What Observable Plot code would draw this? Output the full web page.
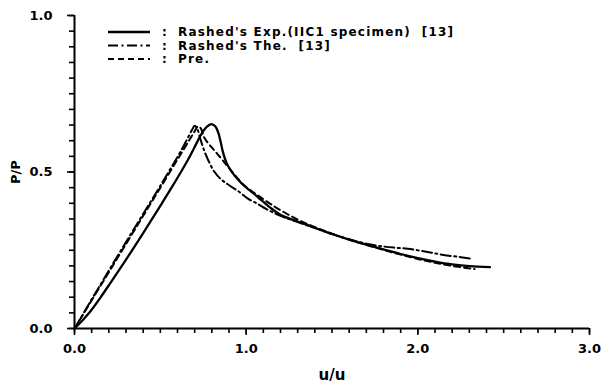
<!DOCTYPE html>
<html>
<head>
<meta charset="utf-8">
<script src="https://cdn.jsdelivr.net/npm/d3@7"></script>
<script src="https://cdn.jsdelivr.net/npm/@observablehq/plot@0.6"></script>
<style>
  html, body { margin: 0; padding: 0; background: #fff; }
  #wrap { position: relative; width: 601px; height: 387px; }
  #legend { position: absolute; left: 0; top: 0; pointer-events: none; }
  svg text { font-family: "DejaVu Sans", sans-serif; }
</style>
</head>
<body>
<div id="wrap"></div>
<script>
// Series: Rashed's experiment (solid)
const expX = [0, 0.05, 0.10, 0.15, 0.20, 0.30, 0.40, 0.50, 0.56, 0.62, 0.67, 0.70, 0.74, 0.77, 0.797, 0.82, 0.838, 0.852, 0.864, 0.885, 0.913, 0.971, 1.068, 1.136, 1.20, 1.30, 1.40, 1.50, 1.60, 1.70, 1.80, 1.90, 2.00, 2.10, 2.20, 2.30, 2.42];
const expY = [0, 0.028, 0.06, 0.098, 0.138, 0.22, 0.305, 0.392, 0.445, 0.5, 0.548, 0.58, 0.622, 0.644, 0.653, 0.646, 0.625, 0.595, 0.565, 0.53, 0.503, 0.465, 0.42, 0.388, 0.363, 0.342, 0.322, 0.302, 0.284, 0.268, 0.253, 0.238, 0.225, 0.214, 0.205, 0.199, 0.196];
// Series: Rashed's theory (dash-dot)
const theX = [0, 0.10, 0.20, 0.30, 0.40, 0.50, 0.60, 0.65, 0.685, 0.70, 0.715, 0.73, 0.748, 0.777, 0.816, 0.855, 0.903, 0.961, 1.01, 1.068, 1.116, 1.20, 1.30, 1.40, 1.50, 1.60, 1.70, 1.80, 1.87, 1.94, 2.01, 2.08, 2.15, 2.25, 2.32];
const theY = [0, 0.093, 0.185, 0.276, 0.366, 0.456, 0.548, 0.598, 0.635, 0.648, 0.638, 0.612, 0.58, 0.54, 0.5, 0.476, 0.457, 0.436, 0.415, 0.398, 0.382, 0.360, 0.340, 0.321, 0.302, 0.285, 0.271, 0.262, 0.258, 0.255, 0.249, 0.242, 0.235, 0.228, 0.222];
// Series: Present prediction (dashed)
const preX = [0, 0.10, 0.20, 0.30, 0.40, 0.50, 0.60, 0.67, 0.70, 0.72, 0.735, 0.758, 0.797, 0.826, 0.864, 0.922, 0.98, 1.029, 1.087, 1.136, 1.20, 1.30, 1.40, 1.50, 1.60, 1.70, 1.80, 1.90, 2.00, 2.10, 2.20, 2.33];
const preY = [0, 0.09, 0.18, 0.27, 0.36, 0.45, 0.54, 0.603, 0.63, 0.646, 0.64, 0.608, 0.58, 0.562, 0.537, 0.498, 0.462, 0.44, 0.418, 0.4, 0.378, 0.348, 0.324, 0.303, 0.284, 0.267, 0.251, 0.236, 0.222, 0.21, 0.2, 0.19];

const seriesNames = ["Rashed's Exp.(IIC1 specimen)  [13]", "Rashed's The.  [13]", "Pre."];
const xMajorTicks = [0, 1, 2, 3];
const yMajorTicks = [0, 0.5, 1];
const xMinorTicks = d3.range(31).map(i => i / 10);
const yMinorTicks = d3.range(21).map(i => i / 20);
const xLabel = "u/u";
const yLabel = "P/P";

const toRows = (xs, ys) => xs.map((x, i) => ({x, y: ys[i]}));
const exp = toRows(expX, expY);
const the = toRows(theX, theY);
const pre = toRows(preX, preY);

const dashDot = "10,3.5,2,3.5";
const dashed = "6,4";
const fmt = d3.format(".1f");
const font = {fontFamily: "DejaVu Sans", fontWeight: "bold"};

const chart = Plot.plot({
  width: 601,
  height: 387,
  marginLeft: 74,
  marginRight: 12,
  marginTop: 15,
  marginBottom: 59,
  style: {fontFamily: "DejaVu Sans", fontSize: "13px", fontWeight: "bold", color: "#000", background: "#fff"},
  x: {domain: [0, 3]},
  y: {domain: [0, 1]},
  marks: [
    Plot.axisX({ticks: xMinorTicks, tickSize: 5, text: null, label: null, strokeWidth: 1.6}),
    Plot.axisY({ticks: yMinorTicks, tickSize: 5, text: null, label: null, strokeWidth: 1.6}),
    Plot.axisX({ticks: xMajorTicks, tickSize: 7, tickPadding: 8, tickFormat: fmt, fontSize: 13, ...font,
      label: null, strokeWidth: 1.6}),
    Plot.axisY({ticks: yMajorTicks, tickSize: 7, tickPadding: 15, tickFormat: fmt, fontSize: 13, ...font,
      label: null, strokeWidth: 1.6}),
    Plot.axisX({ticks: [], tickSize: 0, fontSize: 15, ...font,
      label: xLabel, labelAnchor: "center", labelArrow: "none", labelOffset: 51}),
    Plot.axisY({ticks: [], tickSize: 0, fontSize: 13, ...font,
      label: yLabel, labelAnchor: "center", labelArrow: "none", labelOffset: 64}),
    Plot.ruleX([0], {strokeWidth: 2}),
    Plot.ruleY([0], {strokeWidth: 2}),
    Plot.line(the, {x: "x", y: "y", stroke: "#000", strokeWidth: 2, strokeDasharray: dashDot, curve: "catmull-rom"}),
    Plot.line(pre, {x: "x", y: "y", stroke: "#000", strokeWidth: 2, strokeDasharray: dashed, curve: "catmull-rom"}),
    Plot.line(exp, {x: "x", y: "y", stroke: "#000", strokeWidth: 2.3, curve: "catmull-rom"})
  ]
});

const wrap = document.getElementById("wrap");
wrap.appendChild(chart);

// Legend overlay (inside the plot frame, as in the original figure)
const dashes = [null, dashDot, dashed];
const ns = "http://www.w3.org/2000/svg";
const leg = document.createElementNS(ns, "svg");
leg.setAttribute("id", "legend");
leg.setAttribute("width", 601);
leg.setAttribute("height", 387);
seriesNames.forEach((name, i) => {
  const cy = 32 + i * 13.5;
  const ln = document.createElementNS(ns, "line");
  ln.setAttribute("x1", 108); ln.setAttribute("x2", 150);
  ln.setAttribute("y1", cy); ln.setAttribute("y2", cy);
  ln.setAttribute("stroke", "#000");
  ln.setAttribute("stroke-width", i === 0 ? 2.3 : 2);
  if (dashes[i]) ln.setAttribute("stroke-dasharray", dashes[i]);
  leg.appendChild(ln);
  const colon = document.createElementNS(ns, "text");
  colon.setAttribute("x", 162); colon.setAttribute("y", cy);
  colon.setAttribute("dy", "0.35em");
  colon.setAttribute("font-size", "12");
  colon.setAttribute("font-weight", "bold");
  colon.textContent = ":";
  leg.appendChild(colon);
  const t = document.createElementNS(ns, "text");
  t.setAttribute("x", 178); t.setAttribute("y", cy);
  t.setAttribute("dy", "0.35em");
  t.setAttribute("font-size", "12");
  t.setAttribute("font-weight", "bold");
  t.setAttribute("letter-spacing", "1.2");
  t.setAttribute("xml:space", "preserve");
  t.style.whiteSpace = "pre";
  t.textContent = name;
  leg.appendChild(t);
});
wrap.appendChild(leg);
</script>
</body>
</html>
